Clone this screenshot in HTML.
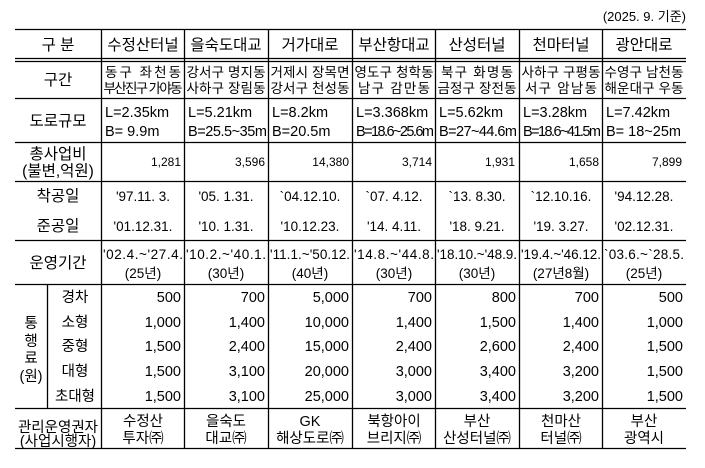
<!DOCTYPE html>
<html><head><meta charset="utf-8"><style>
body{margin:0;background:#fff}
svg text{font-family:"Liberation Sans","Noto Sans CJK KR","NanumGothic",sans-serif;fill:#000}
</style></head><body>
<svg width="705" height="463" viewBox="0 0 705 463" xmlns="http://www.w3.org/2000/svg">
<g stroke="#000" stroke-width="1.3" fill="none">
<line x1="15" y1="29.5" x2="686" y2="29.5"/>
<line x1="15" y1="58.5" x2="686" y2="58.5"/>
<line x1="15" y1="61.5" x2="686" y2="61.5"/>
<line x1="15" y1="98.5" x2="686" y2="98.5"/>
<line x1="15" y1="142.5" x2="686" y2="142.5"/>
<line x1="15" y1="181.5" x2="686" y2="181.5"/>
<line x1="15" y1="240.5" x2="686" y2="240.5"/>
<line x1="15" y1="284.5" x2="686" y2="284.5"/>
<line x1="15" y1="408.5" x2="686" y2="408.5"/>
<line x1="15" y1="448.5" x2="686" y2="448.5"/>
<line x1="101.5" y1="29" x2="101.5" y2="448"/>
<line x1="184.5" y1="29" x2="184.5" y2="448"/>
<line x1="268.5" y1="29" x2="268.5" y2="448"/>
<line x1="352.5" y1="29" x2="352.5" y2="448"/>
<line x1="435.5" y1="29" x2="435.5" y2="448"/>
<line x1="519.5" y1="29" x2="519.5" y2="448"/>
<line x1="602.5" y1="29" x2="602.5" y2="448"/>
<line x1="47.5" y1="284" x2="47.5" y2="408"/>
</g>
<text x="686" y="21" font-size="13" text-anchor="end">(2025. 9. 기준)</text>
<g font-size="15.5" text-anchor="middle">
<text x="58" y="50">구 분</text>
<text x="143" y="50">수정산터널</text>
<text x="226" y="50">을숙도대교</text>
<text x="310" y="50">거가대로</text>
<text x="394" y="50">부산항대교</text>
<text x="477" y="50">산성터널</text>
<text x="561" y="50">천마터널</text>
<text x="644" y="50">광안대로</text>
<text x="58" y="85">구간</text>
<text x="58" y="126">도로규모</text>
<text x="58" y="159">총사업비</text>
<text x="58" y="176">(불변,억원)</text>
<text x="58" y="201">착공일</text>
<text x="58" y="231">준공일</text>
<text x="58" y="268">운영기간</text>
<text x="58" y="432" font-size="14.5">관리운영권자</text>
<text x="58" y="446" font-size="14.5">(사업시행자)</text>
</g>
<g font-size="13.5" text-anchor="middle">
<text x="143" y="77" textLength="76">동구 좌천동</text><text x="143" y="93" textLength="79">부산진구 가야동</text>
<text x="226" y="77" textLength="79">강서구 명지동</text><text x="226" y="93" textLength="79">사하구 장림동</text>
<text x="310" y="77" textLength="79">거제시 장목면</text><text x="310" y="93" textLength="79">강서구 천성동</text>
<text x="394" y="77" textLength="79">영도구 청학동</text><text x="394" y="93" textLength="72">남구 감만동</text>
<text x="477" y="77" textLength="72">북구 화명동</text><text x="477" y="93" textLength="79">금정구 장전동</text>
<text x="561" y="77" textLength="79">사하구 구평동</text><text x="561" y="93" textLength="72">서구 암남동</text>
<text x="644" y="77" textLength="79">수영구 남천동</text><text x="644" y="93" textLength="79">해운대구 우동</text>
</g>
<g font-size="14.5">
<text x="105" y="117">L=2.35km</text><text x="105" y="136">B=  9.9m</text>
<text x="188" y="117">L=5.21km</text><text x="188" y="136" textLength="79">B=25.5~35m</text>
<text x="272" y="117">L=8.2km</text><text x="272" y="136">B=20.5m</text>
<text x="356" y="117">L=3.368km</text><text x="356" y="136" textLength="78">B=18.6~25.6m</text>
<text x="439" y="117">L=5.62km</text><text x="439" y="136" textLength="78">B=27~44.6m</text>
<text x="523" y="117">L=3.28km</text><text x="523" y="136" textLength="78">B=18.6~41.5m</text>
<text x="606" y="117">L=7.42km</text><text x="606" y="136">B= 18~25m</text>
</g>
<g font-size="12" text-anchor="end">
<text x="181" y="166">1,281</text><text x="265" y="166">3,596</text><text x="349" y="166">14,380</text>
<text x="432" y="166">3,714</text><text x="515" y="166">1,931</text><text x="599" y="166">1,658</text>
<text x="682" y="166">7,899</text>
</g>
<g font-size="13.5" text-anchor="middle">
<text x="143" y="201">'97.11. 3.</text><text x="226" y="201">'05. 1.31.</text><text x="310" y="201">`04.12.10.</text>
<text x="394" y="201">`07. 4.12.</text><text x="477" y="201">`13. 8.30.</text><text x="561" y="201">`12.10.16.</text>
<text x="644" y="201">'94.12.28.</text>
<text x="143" y="231">'01.12.31.</text><text x="226" y="231">'10. 1.31.</text><text x="310" y="231">'10.12.23.</text>
<text x="394" y="231">'14. 4.11.</text><text x="477" y="231">'18. 9.21.</text><text x="561" y="231">'19. 3.27.</text>
<text x="644" y="231">'02.12.31.</text>
</g>
<g font-size="13.5" text-anchor="middle">
<text x="143" y="259" textLength="80">'02.4.~'27.4.</text><text x="143" y="278">(25년)</text>
<text x="226" y="259" textLength="80">'10.2.~'40.1.</text><text x="226" y="278">(30년)</text>
<text x="310" y="259" textLength="80">'11.1.~'50.12.</text><text x="310" y="278">(40년)</text>
<text x="394" y="259" textLength="80">'14.8.~'44.8.</text><text x="394" y="278">(30년)</text>
<text x="477" y="259" textLength="80">'18.10.~'48.9.</text><text x="477" y="278">(30년)</text>
<text x="561" y="259" textLength="80">'19.4.~'46.12.</text><text x="561" y="278">(27년8월)</text>
<text x="644" y="259" textLength="80">`03.6.~`28.5.</text><text x="644" y="278">(25년)</text>
</g>
<g font-size="14.5" text-anchor="middle">
<text x="31" y="328">통</text><text x="31" y="346">행</text><text x="31" y="363">료</text><text x="31" y="381">(원)</text>
<text x="75" y="302">경차</text><text x="75" y="327">소형</text><text x="75" y="351">중형</text>
<text x="75" y="376">대형</text><text x="75" y="401">초대형</text>
</g>
<g font-size="14.5" text-anchor="end">
<text x="181" y="302">500</text><text x="265" y="302">700</text><text x="349" y="302">5,000</text><text x="432" y="302">700</text><text x="516" y="302">800</text><text x="599" y="302">700</text><text x="683" y="302">500</text>
<text x="181" y="327">1,000</text><text x="265" y="327">1,400</text><text x="349" y="327">10,000</text><text x="432" y="327">1,400</text><text x="516" y="327">1,500</text><text x="599" y="327">1,400</text><text x="683" y="327">1,000</text>
<text x="181" y="351">1,500</text><text x="265" y="351">2,400</text><text x="349" y="351">15,000</text><text x="432" y="351">2,400</text><text x="516" y="351">2,600</text><text x="599" y="351">2,400</text><text x="683" y="351">1,500</text>
<text x="181" y="376">1,500</text><text x="265" y="376">3,100</text><text x="349" y="376">20,000</text><text x="432" y="376">3,000</text><text x="516" y="376">3,400</text><text x="599" y="376">3,200</text><text x="683" y="376">1,500</text>
<text x="181" y="401">1,500</text><text x="265" y="401">3,100</text><text x="349" y="401">25,000</text><text x="432" y="401">3,000</text><text x="516" y="401">3,400</text><text x="599" y="401">3,200</text><text x="683" y="401">1,500</text>
</g>
<g font-size="14.5" text-anchor="middle">
<text x="143" y="426">수정산</text><text x="143" y="443">투자㈜</text>
<text x="226" y="426">을숙도</text><text x="226" y="443">대교㈜</text>
<text x="310" y="426">GK</text><text x="310" y="443">해상도로㈜</text>
<text x="394" y="426">북항아이</text><text x="394" y="443">브리지㈜</text>
<text x="477" y="426">부산</text><text x="477" y="443">산성터널㈜</text>
<text x="561" y="426">천마산</text><text x="561" y="443">터널㈜</text>
<text x="644" y="426">부산</text><text x="644" y="443">광역시</text>
</g>
</svg>
</body></html>
